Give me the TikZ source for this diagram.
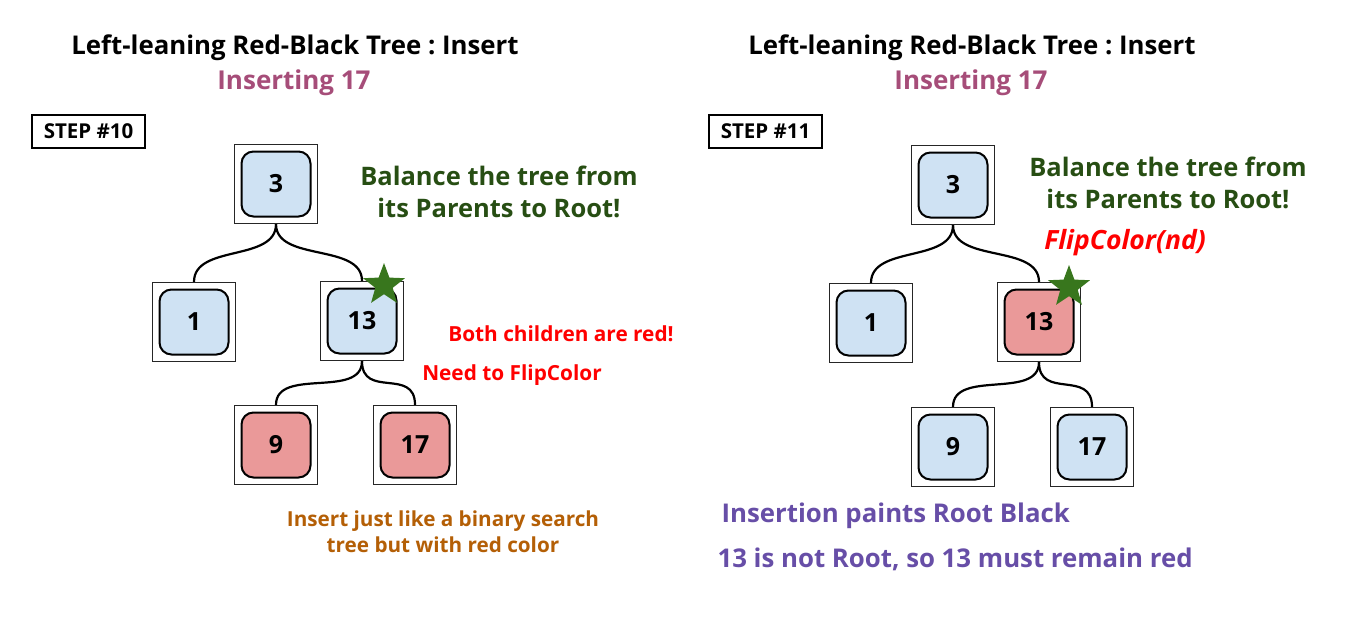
\documentclass[tikz,border=0pt]{standalone}
\usepackage{fontspec}
\setmainfont{Open Sans}
\frenchspacing
\usetikzlibrary{shapes.geometric}
\definecolor{keyblue}{HTML}{CFE2F3}
\definecolor{keyred}{HTML}{EA9999}
\definecolor{hintgreen}{HTML}{274E13}
\definecolor{stargreen}{HTML}{38761D}
\definecolor{subpink}{HTML}{A64D79}
\definecolor{notebrown}{HTML}{B45F06}
\definecolor{notepurple}{HTML}{674EA7}
\tikzset{
  outerbox/.style={draw=black!85, line width=1.3pt, fill=white, minimum width=83pt, minimum height=79pt, inner sep=0pt},
  keybox/.style={draw=black, line width=2pt, rounded corners=12pt, minimum width=69pt, minimum height=65pt, inner sep=0pt, font=\fontsize{25}{30}\selectfont\bfseries},
  bluekey/.style={keybox, fill=keyblue},
  redkey/.style={keybox, fill=keyred},
  edge/.style={line width=2.2pt},
  stepbox/.style={draw, line width=1.6pt, minimum width=113pt, minimum height=33pt, font=\fontsize{20.5}{22}\selectfont\bfseries},
  mark star/.style={star, star points=5, star point ratio=2.4, fill=stargreen, minimum size=44pt, inner sep=0pt}
}
\begin{document}
\begin{tikzpicture}[x=1pt, y=-1pt] % 1 Einheit = 1 Pixel, y nach unten
\useasboundingbox (0,0) rectangle (1367,643);

% Ueberschriften
\foreach \dx/\stp in {0/10, 677/11} {
  \node[font=\fontsize{25.8}{28}\selectfont\bfseries] (title\stp) at (295+\dx,48) {Left-leaning Red-Black Tree : Insert};
  \node[font=\fontsize{26}{28}\selectfont\bfseries, text=subpink] (sub\stp) at (294+\dx,83) {Inserting 17};
  \node[stepbox] (step\stp) at (88.5+\dx,131.5) {STEP \#\stp};
}

% linker Baum (Schritt 10)
\foreach \name/\x/\y in {a3/276/184, a1/194/322, a13/362/321, a9/276/445, a17/415/445}
  \node[outerbox] (\name) at (\x,\y) {};
\node[bluekey] (ka3) at (a3) {3};
\node[bluekey] (ka1) at (a1) {1};
\node[bluekey] (ka13) at (a13) {13};
\node[redkey] (ka9) at (a9) {9};
\node[redkey] (ka17) at (a17) {17};
\foreach \p/\c in {a3/a1, a3/a13, a13/a9, a13/a17}
  \draw[edge] (\p.south) .. controls +(0,38) and +(0,-38) .. (\c.north);
\node[mark star] (stara) at (384,285) {};

\node[font=\fontsize{25.5}{32}\selectfont\bfseries, text=hintgreen, align=center] (hinta) at (499,192) {Balance the tree from\\its Parents to Root!};
\node[font=\fontsize{20.8}{22}\selectfont\bfseries, text=red] (reda) at (561,334) {Both children are red!};
\node[font=\fontsize{20.8}{22}\selectfont\bfseries, text=red] (flipa) at (512,375) {Need to FlipColor};
\node[font=\fontsize{20.7}{26}\selectfont\bfseries, text=notebrown, align=center] (inserta) at (443,532) {Insert just like a binary search\\tree but with red color};

% rechter Baum (Schritt 11)
\foreach \name/\x/\y in {b3/953/185, b1/871/323, b13/1039/322, b9/953/447, b17/1092/447}
  \node[outerbox] (\name) at (\x,\y) {};
\node[bluekey] (kb3) at (b3) {3};
\node[bluekey] (kb1) at (b1) {1};
\node[redkey] (kb13) at (b13) {13};
\node[bluekey] (kb9) at (b9) {9};
\node[bluekey] (kb17) at (b17) {17};
\foreach \p/\c in {b3/b1, b3/b13, b13/b9, b13/b17}
  \draw[edge] (\p.south) .. controls +(0,38) and +(0,-38) .. (\c.north);
\node[mark star] (starb) at (1069,287) {};

\node[font=\fontsize{25.5}{32}\selectfont\bfseries, text=hintgreen, align=center] (hintb) at (1168,183) {Balance the tree from\\its Parents to Root!};
\node[font=\fontsize{26.5}{28}\selectfont\bfseries\itshape, text=red] (flipb) at (1125,243) {FlipColor(nd)};
\node[font=\fontsize{25.8}{28}\selectfont\bfseries, text=notepurple, anchor=west] (rootb) at (718,516) {Insertion paints Root Black};
\node[font=\fontsize{25.8}{28}\selectfont\bfseries, text=notepurple, anchor=west] (remainb) at (714,559) {13 is not Root, so 13 must remain red};
\end{tikzpicture}
\end{document}
